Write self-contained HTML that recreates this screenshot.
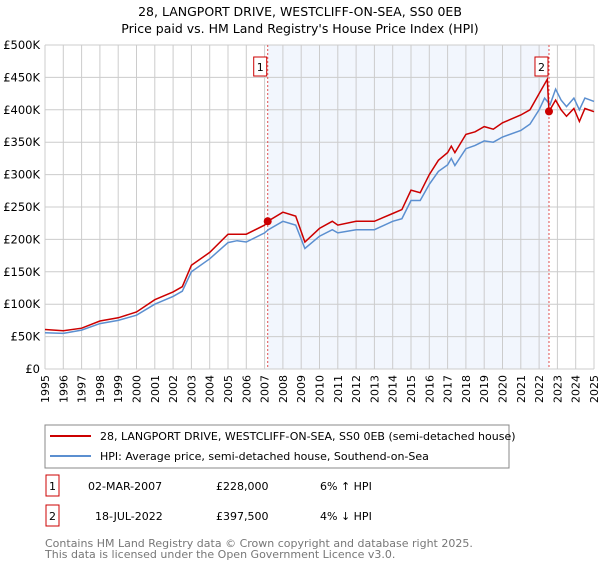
<!DOCTYPE html>
<html><head><meta charset="utf-8"><style>
body{margin:0;background:#fff;font-family:"Liberation Sans","DejaVu Sans",sans-serif;}
svg text{font-family:"DejaVu Sans","Liberation Sans",sans-serif;}
</style></head><body>
<svg width="600" height="560" viewBox="0 0 600 560" xmlns="http://www.w3.org/2000/svg">
<text x="300" y="16" text-anchor="middle" font-size="12.5">28, LANGPORT DRIVE, WESTCLIFF-ON-SEA, SS0 0EB</text>
<text x="300" y="33" text-anchor="middle" font-size="12.5">Price paid vs. HM Land Registry's House Price Index (HPI)</text>
<g id="plot"></g>
<rect x="45" y="425" width="464" height="43" fill="#fff" stroke="#888"/>
<line x1="50" y1="436" x2="91" y2="436" stroke="#cc0000" stroke-width="2"/>
<text x="100" y="440" font-size="11">28, LANGPORT DRIVE, WESTCLIFF-ON-SEA, SS0 0EB (semi-detached house)</text>
<line x1="50" y1="456" x2="91" y2="456" stroke="#5b8fd0" stroke-width="2"/>
<text x="100" y="460" font-size="11">HPI: Average price, semi-detached house, Southend-on-Sea</text>
<rect x="46" y="475" width="13" height="21" fill="#fff" stroke="#cc0000"/>
<text x="52.5" y="490" font-size="11" text-anchor="middle">1</text>
<text x="88" y="490" font-size="11">02-MAR-2007</text>
<text x="216" y="490" font-size="11">£228,000</text>
<text x="320" y="490" font-size="11">6% ↑ HPI</text>
<rect x="46" y="505" width="13" height="21" fill="#fff" stroke="#cc0000"/>
<text x="52.5" y="520" font-size="11" text-anchor="middle">2</text>
<text x="95" y="520" font-size="11">18-JUL-2022</text>
<text x="216" y="520" font-size="11">£397,500</text>
<text x="320" y="520" font-size="11">4% ↓ HPI</text>
<text x="45" y="547" font-size="11" fill="#777">Contains HM Land Registry data © Crown copyright and database right 2025.</text>
<text x="45" y="558" font-size="11" fill="#777">This data is licensed under the Open Government Licence v3.0.</text>
</svg>
<script>
const hpiYears=[1995,1996,1997,1998,1999,2000,2001,2002,2002.5,2003,2004,2005,2005.5,2006,2007,2007.2,2008,2008.7,2009.2,2010,2010.7,2011,2012,2013,2014,2014.5,2015,2015.5,2016,2016.5,2017,2017.2,2017.4,2018,2018.5,2019,2019.5,2020,2021,2021.5,2022,2022.3,2022.6,2022.9,2023.2,2023.5,2023.9,2024.2,2024.5,2025];
const hpiValues=[56,55,60,70,75,83,100,112,120,150,170,195,198,196,210,215,228,222,186,205,215,210,215,215,228,232,260,260,285,305,315,325,314,340,345,352,350,358,368,378,400,418,408,432,415,405,418,400,418,413];
const propYears=[1995,1996,1997,1998,1999,2000,2001,2002,2002.5,2003,2004,2005,2005.5,2006,2007,2007.17,2008,2008.7,2009.2,2010,2010.7,2011,2012,2013,2014,2014.5,2015,2015.5,2016,2016.5,2017,2017.2,2017.4,2018,2018.5,2019,2019.5,2020,2021,2021.5,2022,2022.45,2022.54,2022.9,2023.2,2023.5,2023.9,2024.2,2024.5,2025];
const propValues=[61,59,63,74,79,88,107,119,127,160,180,208,208,208,222,228,242,236,196,217,228,222,228,228,240,246,276,272,300,322,334,344,334,362,366,374,370,380,392,400,425,447,397.5,415,400,390,402,382,402,397];
const saleYears=[2007.17,2022.54];
const saleValues=[228,397.5];
const saleLabels=["1","2"];
const yTicks=[0,50,100,150,200,250,300,350,400,450,500];
const yTickLabels=["£0","£50K","£100K","£150K","£200K","£250K","£300K","£350K","£400K","£450K","£500K"];
const xTicks=[1995,1996,1997,1998,1999,2000,2001,2002,2003,2004,2005,2006,2007,2008,2009,2010,2011,2012,2013,2014,2015,2016,2017,2018,2019,2020,2021,2022,2023,2024,2025];

const NS="http://www.w3.org/2000/svg";
const L=45,R=594,T=45,B=369;
const x=y=>L+(y-1995)/30*(R-L);
const yv=v=>B-v/500*(B-T);
const g=document.getElementById('plot');
function mk(tag,attrs){const e=document.createElementNS(NS,tag);for(const k in attrs)e.setAttribute(k,attrs[k]);g.appendChild(e);return e;}
let e;
e=mk('rect',{x:x(saleYears[0]),y:T,width:x(saleYears[1])-x(saleYears[0]),height:B-T,fill:'#eef3fc',opacity:0.75});


xTicks.forEach(t=>{
 e=mk('line',{x1:x(t),x2:x(t),y1:T,y2:B,stroke:'#ccc','stroke-width':1});
 
 
 e=mk('text',{x:0,y:0,'font-size':11,'text-anchor':'end',transform:`translate(${x(t)+4},${B+6}) rotate(-90)`});
 e.textContent=t;
 
 
});
yTicks.forEach((t,i)=>{
 e=mk('line',{x1:L,x2:R,y1:yv(t),y2:yv(t),stroke:'#ccc','stroke-width':1});
 
 
 e=mk('text',{x:L-5,y:yv(t)+4,'font-size':11.5,'text-anchor':'end'});
 e.textContent=yTickLabels[i];
 
 
});
saleYears.forEach((s,i)=>{
 e=mk('line',{x1:x(s),x2:x(s),y1:T,y2:B,stroke:'#e05050','stroke-width':1,'stroke-dasharray':'2,2'});
 
 
});
function path(xs,vs,col,name){
 const d=xs.map((t,i)=>(i?'L':'M')+x(t).toFixed(1)+','+yv(vs[i]).toFixed(1)).join('');
 e=mk('path',{d:d,fill:'none',stroke:col,'stroke-width':1.5});
 
 
}
path(hpiYears,hpiValues,'#5b8fd0','hpi-line');
path(propYears,propValues,'#cc0000','property-line');
saleYears.forEach((s,i)=>{
 e=mk('circle',{cx:x(s),cy:yv(saleValues[i]),r:4,fill:'#cc0000'});
 
 
 e=mk('rect',{x:x(s)-14,y:57,width:13,height:19,fill:'#fff',stroke:'#cc0000'});
 
 
 e=mk('text',{x:x(s)-7.5,y:71,'font-size':11,'text-anchor':'middle'});
 e.textContent=saleLabels[i];
 
 
});
</script>
</body></html>
